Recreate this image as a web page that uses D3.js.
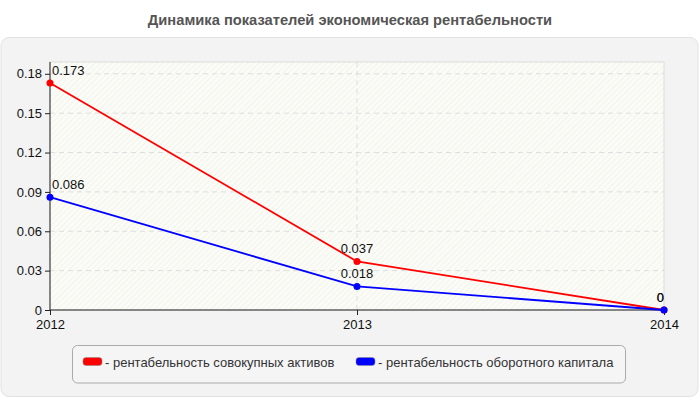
<!DOCTYPE html>
<html>
<head>
<meta charset="utf-8">
<script src="https://cdn.jsdelivr.net/npm/d3@7"></script>
<style>
  body { margin: 0; background: #fff; font-family: Arial, "Liberation Sans", sans-serif; }
  .axis text { font-size: 13px; fill: #111; }
  .axis path, .axis line { stroke: #222; }
</style>
</head>
<body>
<script>
// chart data
var years = ["2012", "2013", "2014"];
var seriesNames = ["- рентабельность совокупных активов", "- рентабельность оборотного капитала"];
var assets = [0.173, 0.037, 0];
var working = [0.086, 0.018, 0];
var colors = ["#ff0000", "#0000ff"];
var yTicks = [0, 0.03, 0.06, 0.09, 0.12, 0.15, 0.18];

var W = 700, H = 400;
var margin = {left: 50, top: 62, right: 36, bottom: 90};
var width = W - margin.left - margin.right;
var height = H - margin.top - margin.bottom;

var svg = d3.select("body").append("svg").attr("width", W).attr("height", H);

// hatch for the plot background
var defs = svg.append("defs");
var pat = defs.append("pattern").attr("id", "hatch").attr("patternUnits", "userSpaceOnUse")
    .attr("width", 4).attr("height", 4).attr("patternTransform", "rotate(45)");
pat.append("rect").attr("width", 4).attr("height", 4).attr("fill", "#fcfcf6");
pat.append("line").attr("x1", 0).attr("y1", 0).attr("x2", 0).attr("y2", 4)
    .attr("stroke", "#ececec").attr("stroke-width", 1.2);

// title
svg.append("text").attr("x", W / 2).attr("y", 25).attr("text-anchor", "middle")
    .attr("font-size", "14.7px").attr("font-weight", "bold").attr("fill", "#555")
    .text("Динамика показателей экономическая рентабельности");

// outer panel
svg.append("rect").attr("x", 1).attr("y", 37.5).attr("width", 697).attr("height", 359)
    .attr("rx", 8).attr("fill", "#f3f3f3").attr("stroke", "#e2e2e2");

var x = d3.scalePoint().domain(years).range([0, width]);
var y = d3.scaleLinear().domain([0, 0.189]).range([height, 0]);

var g = svg.append("g").attr("transform", "translate(" + margin.left + "," + margin.top + ")");

g.append("rect").attr("width", width).attr("height", height)
    .attr("fill", "url(#hatch)").attr("stroke", "#dcdcdc");

// grid
g.selectAll(".hgrid").data(yTicks.slice(1)).enter().append("line")
    .attr("x1", 0).attr("x2", width)
    .attr("y1", function(d){ return y(d); }).attr("y2", function(d){ return y(d); })
    .attr("stroke", "#dddddd").attr("stroke-dasharray", "5,4");
g.append("line").attr("x1", x("2013")).attr("x2", x("2013")).attr("y1", 0).attr("y2", height)
    .attr("stroke", "#dddddd").attr("stroke-dasharray", "5,4");

// axes
g.append("g").attr("class", "axis").call(d3.axisLeft(y).tickValues(yTicks).tickSize(5).tickSizeOuter(0)
    .tickFormat(function(d){ return d === 0 ? "0" : d3.format(".2f")(d); }))
  .call(function(a){ a.select(".domain").attr("d", "M0,0V" + height); });
g.append("g").attr("class", "axis").attr("transform", "translate(0," + height + ")")
    .call(d3.axisBottom(x).tickSize(5).tickPadding(5).tickSizeOuter(0))
  .call(function(a){ a.select(".domain").attr("d", "M0,0H" + width); });

var series = [assets, working];
var line = d3.line().x(function(d, i){ return x(years[i]); }).y(function(d){ return y(d); });

series.forEach(function(vals, s){
  g.append("path").attr("d", line(vals)).attr("fill", "none")
      .attr("stroke", colors[s]).attr("stroke-width", 1.8);
  g.selectAll(".pt" + s).data(vals).enter().append("circle")
      .attr("cx", function(d, i){ return x(years[i]); })
      .attr("cy", function(d){ return y(d); })
      .attr("r", 3.5).attr("fill", colors[s]);
  g.selectAll(".lb" + s).data(vals).enter().append("text")
      .attr("x", function(d, i){ return x(years[i]); })
      .attr("y", function(d){ return y(d) - 8; })
      .attr("font-size", "13px").attr("fill", "#111")
      .text(function(d){ return String(d); })
      .each(function(d, i){
        var t = d3.select(this), w = this.getComputedTextLength(), cx = x(years[i]);
        var left = Math.max(2, Math.min(width - w, cx - w / 2));
        t.attr("x", left);
      });
});

// legend
var lg = svg.append("g");
lg.append("rect").attr("x", 72.5).attr("y", 345.5).attr("width", 553).attr("height", 37.5)
    .attr("rx", 5).attr("fill", "#f5f5f5").attr("stroke", "#aaaaaa");
var legendX = [83, 356];
seriesNames.forEach(function(name, s){
  lg.append("rect").attr("x", legendX[s]).attr("y", 357.5).attr("width", 19).attr("height", 8)
      .attr("rx", 3).attr("fill", colors[s]).attr("stroke", "#888").attr("stroke-width", 0.5);
  lg.append("text").attr("x", legendX[s] + 22).attr("y", 366.5).attr("font-size", "13px")
      .attr("fill", "#333").text(name);
});
</script>
</body>
</html>
